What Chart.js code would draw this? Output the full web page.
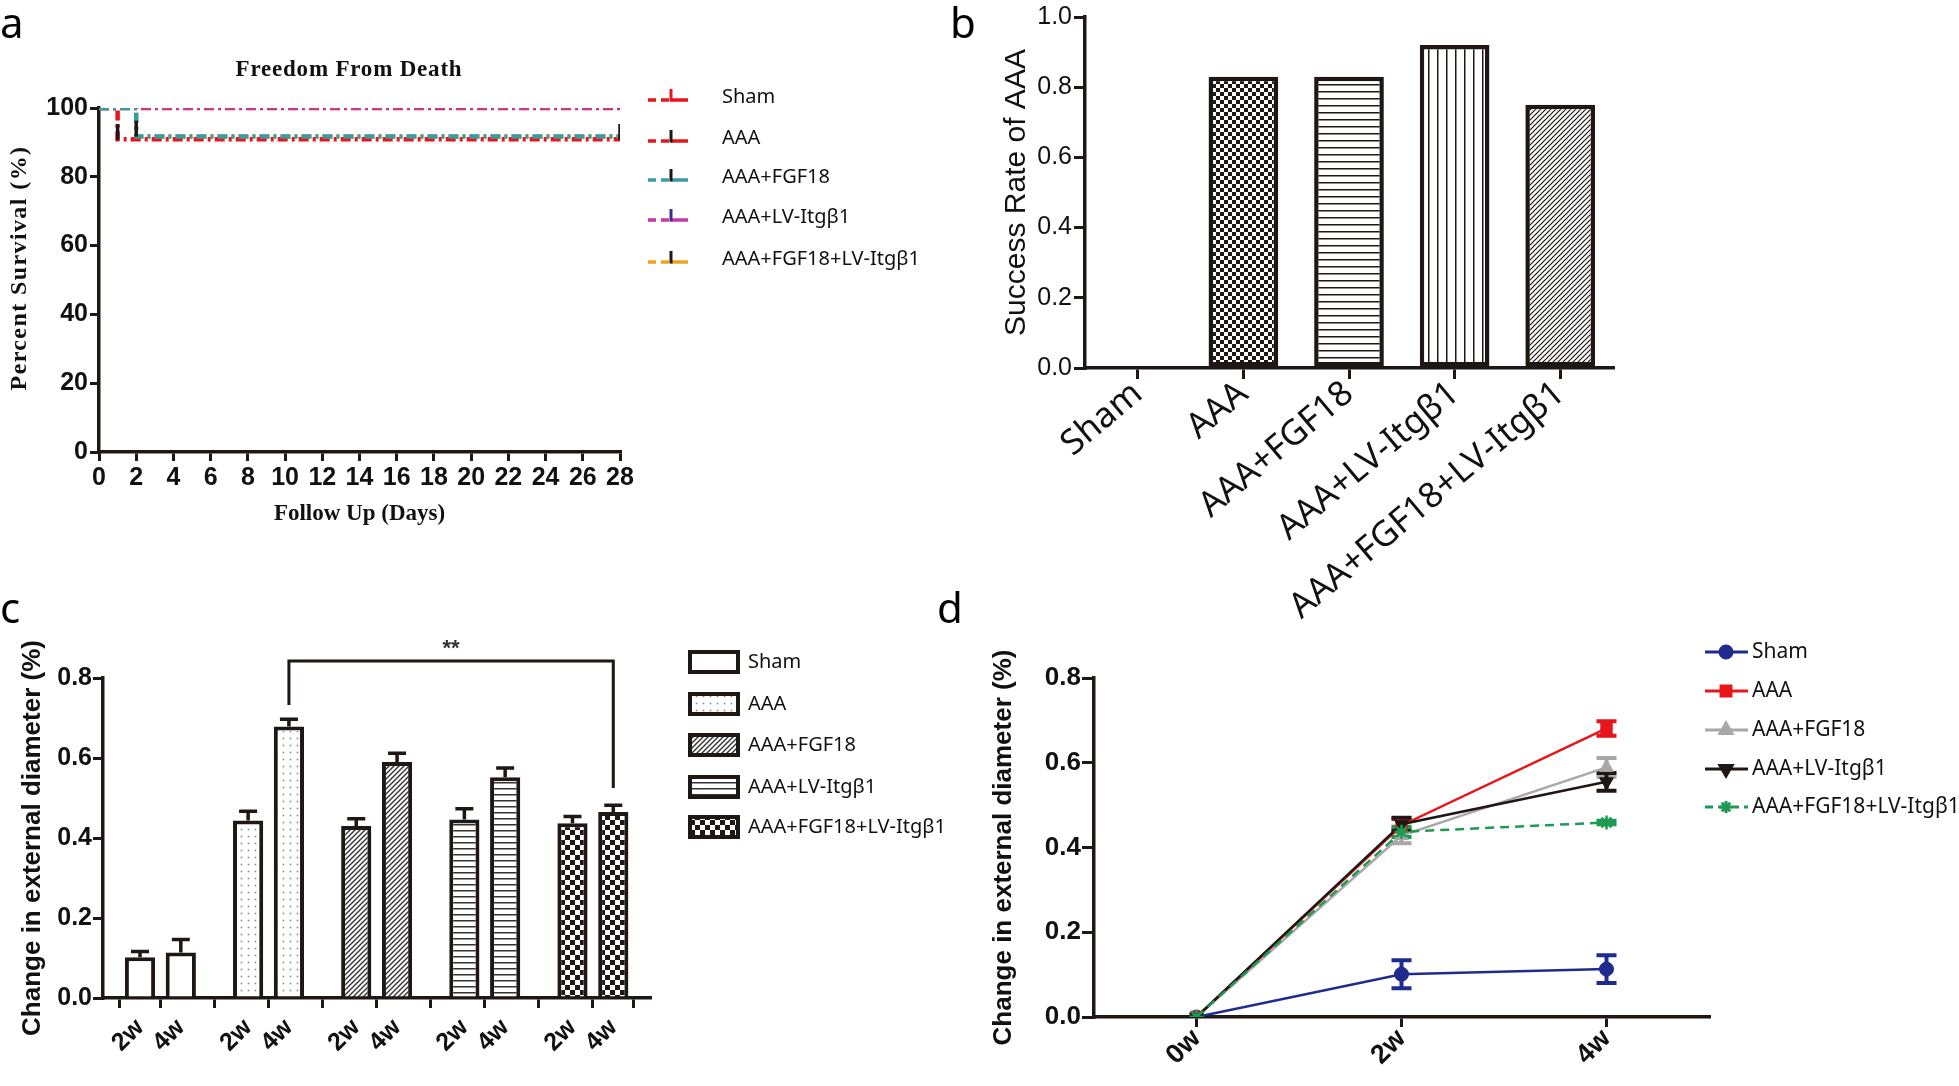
<!DOCTYPE html>
<html><head><meta charset="utf-8">
<script src="https://cdn.jsdelivr.net/npm/chart.js@4.4.1/dist/chart.umd.min.js"></script>
<style>
html,body{margin:0;padding:0;background:#fff;}
body{width:1959px;height:1086px;position:relative;overflow:hidden;}
canvas{position:absolute;}
.pl{position:absolute;font-family:"Noto Sans","DejaVu Sans",sans-serif;font-size:42px;line-height:42px;color:#000;}
</style></head><body>
<canvas id="ca" width="960" height="540" style="left:0;top:0"></canvas>
<canvas id="cb" width="999" height="700" style="left:960px;top:0"></canvas>
<canvas id="cc" width="960" height="526" style="left:0;top:560px"></canvas>
<canvas id="cd" width="999" height="526" style="left:960px;top:560px"></canvas>
<div class="pl" style="left:0;top:1px">a</div>
<div class="pl" style="left:950px;top:1px">b</div>
<div class="pl" style="left:0;top:586px">c</div>
<div class="pl" style="left:937px;top:586px">d</div>
<script>
// ---------------- DATA ----------------
const groups = ['Sham','AAA','AAA+FGF18','AAA+LV-Itgβ1','AAA+FGF18+LV-Itgβ1'];

// (a) survival curves
const shamDays = [0, 28],      shamSurv = [100, 100];
const aaaDays = [0, 1, 28],    aaaSurv = [100, 90.9, 90.9];
const fgfDays = [0, 2, 28],    fgfSurv = [100, 91.7, 91.7];
const lvDays = [0, 28],        lvSurv = [100, 100];
const comboDays = [0, 2, 28],  comboSurv = [100, 91.7, 91.7];
const censorDays = [1, 2, 28], censorSurv = [93, 94, 93];
const lvCensorDays = [28],     lvCensorSurv = [101.5];

// (b) success rate
const successRate = [0, 0.83, 0.83, 0.92, 0.75];

// (c) change in diameter, bars
const weekLabels = ['2w', '4w'];
const diam2w    = [0.102, 0.444, 0.430, 0.446, 0.437];
const diam2wErr = [0.014, 0.023, 0.018, 0.027, 0.017];
const diam4w    = [0.114, 0.679, 0.590, 0.552, 0.465];
const diam4wErr = [0.032, 0.018, 0.022, 0.023, 0.017];
const sigLabel = '**';

// (d) change in diameter, lines
const timeLabels = ['0w', '2w', '4w'];
const shamLine  = [0, 0.101, 0.113], shamLineErr  = [0, 0.033, 0.033];
const aaaLine   = [0, 0.452, 0.681], aaaLineErr   = [0, 0.015, 0.017];
const fgfLine   = [0, 0.428, 0.589], fgfLineErr   = [0, 0.018, 0.022];
const lvLine    = [0, 0.455, 0.555], lvLineErr    = [0, 0.015, 0.021];
const comboLine = [0, 0.437, 0.459], comboLineErr = [0, 0.012, 0.004];

// ---------------- STYLE ----------------
const INK = '#1e1714';
const SANS = '"Liberation Sans", Arial, sans-serif';
const NOTO = '"Noto Sans", "DejaVu Sans", sans-serif';
const SERIF = '"Liberation Serif", "Times New Roman", serif';
Chart.defaults.animation = false;
Chart.defaults.color = '#111';
Chart.defaults.plugins.legend.display = false;
Chart.defaults.plugins.tooltip.enabled = false;

function pattern(draw, w, h) {
  const c = document.createElement('canvas'); c.width = w; c.height = h;
  const x = c.getContext('2d'); x.fillStyle = '#fff'; x.fillRect(0, 0, w, h);
  draw(x, w, h);
  return x.createPattern(c, 'repeat');
}
const pCheck = s => pattern(x => { x.fillStyle = INK; x.fillRect(0, 0, s, s); x.fillRect(s, s, s, s); }, 2 * s, 2 * s);
const pH = (p, t, col) => pattern((x, w, h) => { x.fillStyle = col; x.fillRect(0, 0, w, t); }, 4, p);
const pV = (p, t, col) => pattern((x, w, h) => { x.fillStyle = col; x.fillRect(0, 0, t, h); }, p, 4);
const pDiag = (p, t, col) => pattern(x => {
  x.strokeStyle = col; x.lineWidth = t; x.beginPath();
  x.moveTo(-2, p + 2); x.lineTo(p + 2, -2);
  x.moveTo(-2, 2); x.lineTo(2, -2);
  x.moveTo(p - 2, p + 2); x.lineTo(p + 2, p - 2);
  x.stroke();
}, p, p);
const pDots = (p, r, col) => pattern(x => { x.fillStyle = col; x.fillRect(p / 2 - r / 2, p / 2 - r / 2, r, r); }, p, p);

function axisBase(tickLen) {
  return {
    border: { color: INK, width: 3.5 },
    grid: { drawOnChartArea: false, drawTicks: true, tickLength: tickLen, color: INK, lineWidth: 3 }
  };
}

// ---------------- (a) ----------------
const survColors = ['#e8151b', '#e8151b', '#3a9ca2', '#c8379f', '#f4a21c'];
const survTick = ['#e8151b', INK, INK, '#3b2f8f', INK];
const survWidth = [4.5, 4.5, 4.5, 3.5, 4];
const survOrder = [4, 1, 0, 2, 3];
const survSets = [[shamDays, shamSurv], [aaaDays, aaaSurv], [fgfDays, fgfSurv], [lvDays, lvSurv], [comboDays, comboSurv]];
const xy = (xs, ys) => xs.map((v, i) => ({ x: v, y: ys[i] }));

const textA = {
  id: 'textA',
  afterDraw(chart) {
    const ctx = chart.ctx; ctx.save();
    ctx.fillStyle = '#111'; ctx.textAlign = 'center'; ctx.textBaseline = 'middle';
    ctx.font = 'bold 23px ' + SERIF;
    ctx.letterSpacing = '0.8px';
    ctx.fillText('Freedom From Death', 349, 70);
    ctx.font = 'bold 24px ' + SERIF;
    ctx.letterSpacing = '1.4px';
    ctx.save(); ctx.translate(20, 268); ctx.rotate(-Math.PI / 2);
    ctx.fillText('Percent Survival (%)', 0, 0); ctx.restore();
    ctx.letterSpacing = '0px';
    ctx.font = '20px ' + NOTO; ctx.textAlign = 'left';
    const rows = [100, 141, 180, 220, 262];
    groups.forEach((g, i) => {
      const y = rows[i];
      ctx.strokeStyle = survColors[i]; ctx.lineWidth = 3.5;
      ctx.setLineDash([8, 5]); ctx.beginPath(); ctx.moveTo(648, y); ctx.lineTo(669, y); ctx.stroke();
      ctx.setLineDash([]); ctx.beginPath(); ctx.moveTo(671, y); ctx.lineTo(688, y); ctx.stroke();
      ctx.strokeStyle = survTick[i]; ctx.lineWidth = 3; ctx.beginPath(); ctx.moveTo(671, y + 1.5); ctx.lineTo(671, y - 11); ctx.stroke();
      ctx.fillStyle = '#111'; ctx.fillText(g, 722, y - 3);
    });
    ctx.restore();
  }
};

new Chart(document.getElementById('ca'), {
  type: 'line',
  data: {
    datasets: groups.map((g, i) => ({
      label: g, data: xy(survSets[i][0], survSets[i][1]), borderColor: survColors[i],
      borderWidth: survWidth[i], borderDash: [10, 4, 3, 4], stepped: true, pointRadius: 0, fill: false, order: survOrder[i]
    })).concat([
      { label: 'censor', data: xy(censorDays, censorSurv), showLine: false, pointStyle: 'line', rotation: 90, pointRadius: 8, pointBorderWidth: 3.5, borderColor: INK, order: -2 },
      { label: 'censorLV', data: xy(lvCensorDays, lvCensorSurv), showLine: false, pointStyle: 'line', rotation: 90, pointRadius: 6, pointBorderWidth: 3.5, borderColor: '#3b2f8f', order: -1 }
    ])
  },
  options: {
    responsive: false,
    layout: { padding: { left: 0, top: 108, right: 960 - 620, bottom: 0 } },
    scales: {
      x: Object.assign(axisBase(9), {
        type: 'linear', min: 0, max: 28,
        ticks: { stepSize: 2, maxRotation: 0, padding: 2, color: '#111', font: { family: SANS, size: 25, weight: 'bold' } },
        title: { display: true, text: 'Follow Up (Days)', color: '#111', font: { family: SERIF, size: 23, weight: 'bold' }, padding: { top: 0, bottom: 12 } },
        afterFit: s => { s.height = 540 - 452; }
      }),
      y: Object.assign(axisBase(9), {
        type: 'linear', min: 0, max: 100,
        ticks: { stepSize: 20, padding: 2, color: '#111', font: { family: SANS, size: 25, weight: 'bold' } },
        afterFit: s => { s.width = 99; }
      })
    }
  },
  plugins: [textA]
});

// ---------------- (b) ----------------
const rateFills = ['#fff', pCheck(4), pH(7, 1.5, INK), pV(9, 1.5, INK), pDiag(5, 1.2, INK)];
new Chart(document.getElementById('cb'), {
  type: 'bar',
  data: { labels: groups, datasets: [{ data: successRate, backgroundColor: rateFills, borderColor: INK, borderWidth: 4.5, borderSkipped: false, barPercentage: 0.66, categoryPercentage: 1 }] },
  options: {
    responsive: false,
    layout: { padding: { left: 0, top: 16, right: 999 - 653, bottom: 0 } },
    scales: {
      x: Object.assign(axisBase(11), {
        ticks: { minRotation: 40, maxRotation: 40, autoSkip: false, padding: -6, color: '#111', font: { family: NOTO, size: 35 } },
        afterFit: s => { s.height = 700 - 368; }
      }),
      y: Object.assign(axisBase(11), {
        min: 0, max: 1,
        ticks: { stepSize: 0.2, padding: 2, color: '#111', font: { family: SANS, size: 25 }, callback: v => v.toFixed(1) },
        title: { display: true, text: 'Success Rate of AAA', color: '#111', font: { family: SANS, size: 30 }, padding: { top: 39, bottom: 0 } },
        afterFit: s => { s.width = 125; }
      })
    }
  }
});
Chart.getChart('cb').options.scales.x.grid.offset = false;
Chart.getChart('cb').update();

// ---------------- shared error-bar plugin ----------------
const errorBars = {
  id: 'errorBars',
  beforeDatasetsDraw(chart, a, o) { if (!o.after) drawErr(chart, o); },
  afterDatasetsDraw(chart, a, o) { if (o.after) drawErr(chart, o); }
};
function drawErr(chart, o) {
  const ctx = chart.ctx, ys = chart.scales.y;
  chart.data.datasets.forEach((ds, di) => {
    if (!ds.errors) return;
    const meta = chart.getDatasetMeta(di);
    meta.data.forEach((el, i) => {
      const e = ds.errors[i]; if (!e) return;
      const v = ds.data[i].y;
      const yT = ys.getPixelForValue(v + e);
      const yB = o.upOnly ? ys.getPixelForValue(v) : ys.getPixelForValue(v - e);
      ctx.save(); ctx.strokeStyle = ds.errColor || ds.borderColor; ctx.lineWidth = o.width; ctx.setLineDash([]);
      ctx.beginPath();
      ctx.moveTo(el.x, yT); ctx.lineTo(el.x, yB);
      ctx.moveTo(el.x - o.cap, yT); ctx.lineTo(el.x + o.cap, yT);
      if (!o.upOnly) { ctx.moveTo(el.x - o.cap, yB); ctx.lineTo(el.x + o.cap, yB); }
      ctx.stroke(); ctx.restore();
    });
  });
}

// ---------------- (c) ----------------
const GROUP_STEP = 2.65;
const barX = groups.flatMap((g, gi) => weekLabels.map((w, wi) => gi * GROUP_STEP + wi));
const barY = groups.flatMap((g, gi) => [diam2w[gi], diam4w[gi]]);
const barErr = groups.flatMap((g, gi) => [diam2wErr[gi], diam4wErr[gi]]);
const diamFills = ['#fff', pDots(7, 1.6, '#8a8a8a'), pDiag(5, 1.4, '#333'), pH(6, 1.5, '#333'), pCheck(5)];

const decoC = {
  id: 'decoC',
  afterDraw(chart) {
    const ctx = chart.ctx, xs = chart.scales.x, ys = chart.scales.y;
    const x1 = xs.getPixelForValue(barX[3]), x2 = xs.getPixelForValue(barX[9]);
    ctx.save(); ctx.strokeStyle = INK; ctx.lineWidth = 3;
    ctx.beginPath();
    ctx.moveTo(x1, ys.getPixelForValue(0.7325)); ctx.lineTo(x1, ys.getPixelForValue(0.8425));
    ctx.lineTo(x2, ys.getPixelForValue(0.8425)); ctx.lineTo(x2, ys.getPixelForValue(0.525));
    ctx.stroke();
    ctx.fillStyle = '#333'; ctx.font = 'bold 22px ' + SANS; ctx.textAlign = 'center'; ctx.textBaseline = 'middle';
    ctx.fillText(sigLabel, (x1 + x2) / 2, ys.getPixelForValue(0.872));
    // legend
    const rows = [102, 144, 185, 227, 267];
    ctx.font = '20px ' + NOTO; ctx.textAlign = 'left'; ctx.fillStyle = '#111';
    groups.forEach((g, i) => {
      const y = rows[i];
      ctx.fillStyle = diamFills[i]; ctx.fillRect(690, y - 10, 48, 20);
      ctx.strokeStyle = INK; ctx.lineWidth = 4; ctx.strokeRect(690, y - 10, 48, 20);
      ctx.fillStyle = '#111'; ctx.fillText(g, 748, y);
    });
    ctx.restore();
  }
};

new Chart(document.getElementById('cc'), {
  type: 'bar',
  data: { datasets: [{ data: xy(barX, barY), errors: barErr, backgroundColor: barX.map((v, i) => diamFills[Math.floor(i / 2)]), borderColor: INK, borderWidth: 4, borderSkipped: 'start', barPercentage: 0.74, categoryPercentage: 1 }] },
  options: {
    responsive: false,
    layout: { padding: { left: 0, top: 118, right: 960 - 650, bottom: 0 } },
    plugins: { errorBars: { after: true, upOnly: true, cap: 9, width: 3.5 } },
    scales: {
      x: Object.assign(axisBase(10), {
        type: 'linear', offset: false, min: -0.907, max: 12.5,
        afterBuildTicks: s => { s.ticks = barX.map(v => ({ value: v })); },
        ticks: { minRotation: 45, maxRotation: 45, autoSkip: false, padding: 5, color: '#111', font: { family: SANS, size: 25, weight: 'bold' }, callback: (v, i) => weekLabels[i % 2] },
        afterFit: s => { s.height = 526 - 438; }
      }),
      y: Object.assign(axisBase(10), {
        min: 0, max: 0.8,
        ticks: { stepSize: 0.2, padding: 1, color: '#111', font: { family: SANS, size: 25, weight: 'bold' }, callback: v => v.toFixed(1) },
        title: { display: true, text: 'Change in external diameter (%)', color: '#111', font: { family: SANS, size: 26, weight: 'bold' }, padding: { top: 17, bottom: 0 } },
        afterFit: s => { s.width = 103; }
      })
    }
  },
  plugins: [errorBars, decoC]
});

// ---------------- (d) ----------------
const lineSets = [
  { data: shamLine, err: shamLineErr, color: '#1f2b8f', style: 'circle', r: 7, rot: 0, dash: [] },
  { data: aaaLine, err: aaaLineErr, color: '#e8151b', style: 'rect', r: 8, rot: 0, dash: [] },
  { data: fgfLine, err: fgfLineErr, color: '#a8a8a8', style: 'triangle', r: 8, rot: 0, dash: [] },
  { data: lvLine, err: lvLineErr, color: INK, style: 'triangle', r: 8, rot: 180, dash: [] },
  { data: comboLine, err: comboLineErr, color: '#1f9a52', style: 'star', r: 7, rot: 0, dash: [9, 6] }
];
const lineOrder = [4, 2, 3, 1, 0];
const timeX = timeLabels.map((t, i) => i);

const legendD = {
  id: 'legendD',
  afterDraw(chart) {
    const ctx = chart.ctx; ctx.save();
    const rows = [92, 131, 170, 209, 247];
    ctx.font = '21px ' + NOTO; ctx.textBaseline = 'middle';
    groups.forEach((g, i) => {
      const s = lineSets[i], y = rows[i];
      ctx.strokeStyle = s.color; ctx.lineWidth = 3; ctx.setLineDash(s.dash.length ? [8, 5] : []);
      ctx.beginPath(); ctx.moveTo(745, y); ctx.lineTo(788, y); ctx.stroke(); ctx.setLineDash([]);
      ctx.fillStyle = s.color;
      Chart.helpers.drawPoint(ctx, { pointStyle: s.style, radius: s.r - 1, rotation: s.rot, borderWidth: 2 }, 766, y);
      ctx.fillStyle = '#111'; ctx.fillText(g, 792, y);
    });
    ctx.restore();
  }
};

new Chart(document.getElementById('cd'), {
  type: 'line',
  data: {
    datasets: lineSets.map((s, i) => ({
      label: groups[i], data: xy(timeX, s.data), errors: s.err, borderColor: s.color, backgroundColor: s.color,
      borderWidth: 2.5, borderDash: s.dash, pointStyle: s.style, pointRadius: s.r, pointRotation: s.rot,
      pointBorderWidth: s.style === 'star' ? 2.5 : 1, fill: false, order: lineOrder[i]
    }))
  },
  options: {
    responsive: false,
    layout: { padding: { left: 0, top: 118, right: 999 - 749, bottom: 0 } },
    plugins: { errorBars: { after: false, upOnly: false, cap: 10, width: 4 } },
    scales: {
      x: Object.assign(axisBase(10), {
        type: 'linear', min: -0.5, max: 2.5,
        afterBuildTicks: s => { s.ticks = timeX.map(v => ({ value: v })); },
        ticks: { minRotation: 45, maxRotation: 45, autoSkip: false, padding: -4, color: '#111', font: { family: SANS, size: 27, weight: 'bold' }, callback: (v, i) => timeLabels[i] },
        afterFit: s => { s.height = 526 - 457; }
      }),
      y: Object.assign(axisBase(12), {
        min: 0, max: 0.8,
        ticks: { stepSize: 0.2, padding: 1, color: '#111', font: { family: SANS, size: 26, weight: 'bold' }, callback: v => v.toFixed(1) },
        title: { display: true, text: 'Change in external diameter (%)', color: '#111', font: { family: SANS, size: 26, weight: 'bold' }, padding: { top: 28, bottom: 0 } },
        afterFit: s => { s.width = 134; }
      })
    }
  },
  plugins: [errorBars, legendD]
});
</script>
</body></html>
